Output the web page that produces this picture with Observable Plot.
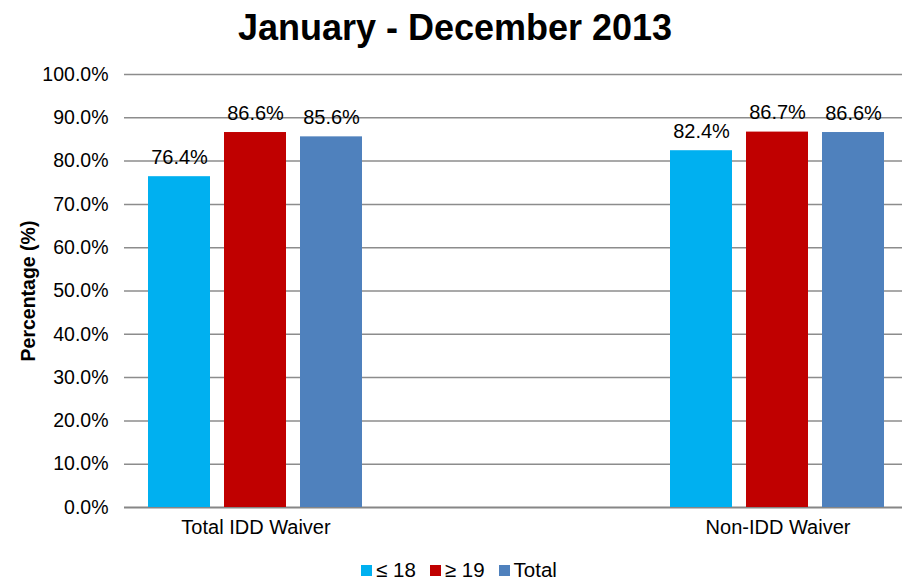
<!DOCTYPE html>
<html><head><meta charset="utf-8">
<script src="https://cdn.jsdelivr.net/npm/d3@7"></script>
<script src="https://cdn.jsdelivr.net/npm/@observablehq/plot@0.6"></script>
<style>
body{margin:0;background:#fff;font-family:"Liberation Sans",Arial,sans-serif;color:#000;}
#title{height:55px;line-height:56px;text-align:center;font-weight:bold;font-size:36px;padding-left:8px;}
#chart{position:relative;width:902px;height:500px;}
#chart svg{display:block;position:absolute;left:0;top:0;}
#chart [aria-label="y-axis label"] text{font-weight:bold;font-size:19.5px;}
#legend{display:flex;justify-content:center;align-items:center;gap:14px;font-size:20.5px;height:26px;margin-top:2px;padding-left:16px;}
#legend .item{display:flex;align-items:center;gap:4px;}
#legend .sw{width:11px;height:11px;display:inline-block;}
</style></head>
<body>
<div id="title">January - December 2013</div>
<div id="chart"></div>
<div id="legend"></div>
<script>
const categories = ["Total IDD Waiver", "Non-IDD Waiver"];
const series = ["≤ 18", "≥ 19", "Total"];
const under18 = [0.764, 0.824];
const over19 = [0.866, 0.867];
const totals = [0.856, 0.866];
const colors = ["#00b0f0", "#c00000", "#4f81bd"];
const yTicks = [0, 0.1, 0.2, 0.3, 0.4, 0.5, 0.6, 0.7, 0.8, 0.9, 1.0];

const seriesValues = [under18, over19, totals];
const data = [];
categories.forEach((c, i) => {
  series.forEach((s, j) => data.push({category: c, series: s, value: seriesValues[j][i]}));
});
const fmt = d3.format(".1%");

const common = {
  width: 902,
  height: 500,
  marginLeft: 124,
  marginRight: 0,
  marginTop: 19,
  marginBottom: 48,
  style: {fontSize: "19.5px", fontFamily: "'Liberation Sans', Arial, sans-serif", color: "#000", background: "transparent"}
};

// background: y axis, gridlines and baseline spanning the whole plot area
const back = Plot.plot({
  ...common,
  y: {domain: [0, 1], ticks: yTicks, tickFormat: fmt, tickSize: 0, tickPadding: 16,
      label: "Percentage (%)", labelAnchor: "center", labelOffset: 103, labelArrow: "none"},
  marks: [
    Plot.ruleY(yTicks.filter(d => d > 0), {stroke: "#8c8c8c", strokeWidth: 1.5}),
    Plot.ruleY([0], {stroke: "#868686", strokeWidth: 2})
  ]
});

// foreground: grouped bars, faceted by category
const front = Plot.plot({
  ...common,
  style: {...common.style, fontSize: "20px"},
  fx: {domain: categories, range: [147, 886], paddingInner: 0.585, paddingOuter: 0, label: null, axis: "bottom", tickSize: 0, tickPadding: 12},
  x: {domain: series, paddingInner: 0.18, paddingOuter: 0, axis: null},
  y: {domain: [0, 1], axis: null},
  color: {domain: series, range: colors},
  marks: [
    Plot.barY(data, {fx: "category", x: "series", y: "value", fill: "series"}),
    Plot.text(data, {fx: "category", x: "series", y: "value", text: d => fmt(d.value), lineAnchor: "bottom", dy: -13, fontSize: 20, fill: "#000"})
  ]
});
const chartEl = document.getElementById("chart");
chartEl.appendChild(back);
chartEl.appendChild(front);

const legend = document.getElementById("legend");
series.forEach((s, i) => {
  const it = document.createElement("span");
  it.className = "item";
  it.innerHTML = `<span class="sw" style="background:${colors[i]}"></span><span>${s}</span>`;
  legend.appendChild(it);
});
</script>
</body></html>
